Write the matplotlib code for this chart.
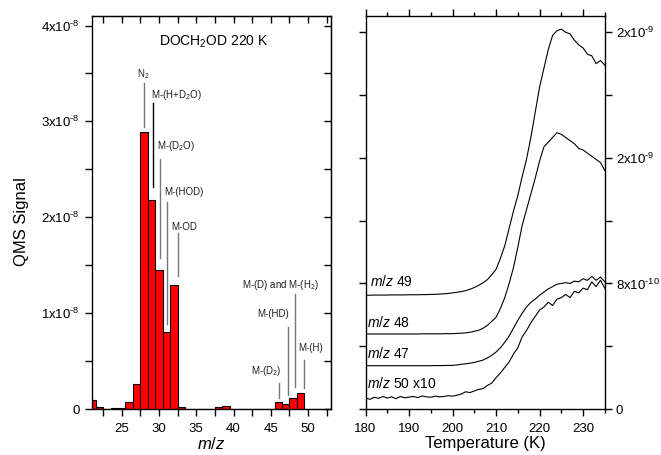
import matplotlib
matplotlib.use('Agg')
import matplotlib.pyplot as plt
from matplotlib.ticker import MultipleLocator, FixedLocator, FixedFormatter

plt.rcParams['font.family'] = ['Liberation Sans', 'DejaVu Sans']
plt.rcParams['mathtext.fontset'] = 'custom'
plt.rcParams['mathtext.rm'] = 'Liberation Sans'
plt.rcParams['mathtext.it'] = 'Liberation Sans:italic'
plt.rcParams['mathtext.bf'] = 'Liberation Sans:bold'

# ---------------- left panel data (units of 1e-8) ----------------
mz = list(range(21, 54))
signal_e8 = [0.09, 0.02, 0.005, 0.008, 0.008, 0.076, 0.26, 2.89, 2.18, 1.45,
             0.80, 1.29, 0.02, 0.005, 0.004, 0.004, 0.004, 0.02, 0.03, 0.0,
             0.0, 0.0, 0.0, 0.0, 0.0, 0.07, 0.05, 0.12, 0.165, 0.005,
             0.004, 0.004, 0.004]

# annotations: label, label x, label y (1e-8), line x, line y0, line y1
ann_labels = ['N$_2$', 'M-(H+D$_2$O)', 'M-(D$_2$O)', 'M-(HOD)', 'M-OD',
              'M-(D) and M-(H$_2$)', 'M-(HD)', 'M-(H)', 'M-(D$_2$)']
ann_text_x = [27.9, 28.9, 29.8, 30.7, 31.7, 41.2, 43.2, 48.7, 42.4]
ann_text_y = [3.49, 3.28, 2.74, 2.26, 1.90, 1.29, 0.99, 0.64, 0.40]
ann_line_x = [28.0, 29.25, 30.1, 31.1, 32.6, 48.2, 47.3, 49.4, 46.1]
ann_line_top = [3.40, 3.19, 2.61, 2.16, 1.84, 1.20, 0.86, 0.51, 0.275]
ann_line_bot = [2.94, 2.32, 1.58, 0.89, 1.39, 0.23, 0.146, 0.22, 0.118]

# ---------------- right panel data (units of 1e-10) ----------------
temp = list(range(180, 236))
mz49 = [7.25, 7.25, 7.26, 7.26, 7.26, 7.26, 7.27, 7.27, 7.27, 7.27,
        7.28, 7.28, 7.28, 7.29, 7.29, 7.30, 7.31, 7.32, 7.34, 7.36,
        7.40, 7.44, 7.48, 7.54, 7.63, 7.74, 7.88, 8.04, 8.24, 8.55,
        8.9, 9.6, 10.4, 11.5, 12.6, 13.6, 14.8, 15.9, 17.3, 18.9,
        20.5, 21.7, 22.9, 23.8, 24.1, 24.2, 24.0, 23.9, 23.5, 23.2,
        23.0, 22.6, 22.5, 22.0, 22.2, 21.9]
mz48 = [4.78, 4.78, 4.78, 4.78, 4.78, 4.78, 4.78, 4.78, 4.78, 4.78,
        4.78, 4.78, 4.78, 4.79, 4.79, 4.79, 4.79, 4.79, 4.80, 4.80,
        4.80, 4.82, 4.83, 4.85, 4.89, 4.95, 5.02, 5.14, 5.33, 5.58,
        5.85, 6.4, 7.1, 8.0, 9.0, 10.3, 11.7, 12.7, 13.7, 14.7,
        15.8, 16.7, 17.0, 17.3, 17.6, 17.5, 17.3, 17.1, 16.9, 16.6,
        16.5, 16.3, 16.1, 15.9, 15.7, 15.2]
mz47 = [2.76, 2.76, 2.76, 2.76, 2.76, 2.76, 2.76, 2.76, 2.76, 2.76,
        2.76, 2.76, 2.76, 2.76, 2.76, 2.76, 2.77, 2.77, 2.77, 2.78,
        2.78, 2.81, 2.85, 2.88, 2.92, 2.97, 3.04, 3.12, 3.25, 3.42,
        3.63, 3.9, 4.25, 4.65, 5.15, 5.65, 6.1, 6.5, 6.8, 7.0,
        7.25, 7.45, 7.65, 7.8, 7.95, 8.0, 8.05, 8.0, 8.15, 8.1,
        8.3, 8.2, 8.45, 8.2, 8.4, 8.1]
mz50x10 = [0.70, 0.62, 0.75, 0.68, 0.80, 0.70, 0.78, 0.66, 0.80, 0.72,
           0.76, 0.80, 0.73, 0.83, 0.78, 0.75, 0.82, 0.78, 0.80, 0.85,
           0.82, 0.88, 0.95, 1.10, 1.05, 1.15, 1.25, 1.30, 1.50, 1.65,
           2.0, 2.3, 2.65, 3.0, 3.5, 3.9, 4.6, 5.0, 5.5, 5.9,
           6.3, 6.5, 6.8, 6.6, 7.0, 7.1, 7.3, 7.1, 7.5, 7.4,
           7.7, 7.6, 8.1, 7.8, 8.2, 7.7]
curve_labels = ['$m/z$ 49', '$m/z$ 48', '$m/z$ 47', '$m/z$ 50 x10']
curve_label_x = [181.0, 180.4, 180.4, 180.4]
curve_label_y = [8.1, 5.5, 3.55, 1.64]

left_ticks = [0, 1e-8, 2e-8, 3e-8, 4e-8]
left_ticklabels = ['0', r'1x10$^{\text{-8}}$', r'2x10$^{\text{-8}}$',
                   r'3x10$^{\text{-8}}$', r'4x10$^{\text{-8}}$']
right_ticks = [0, 4e-10, 8e-10, 1.2e-9, 1.6e-9, 2.0e-9, 2.4e-9]
right_ticklabels = ['0', '', r'8x10$^{\text{-10}}$', '', r'2x10$^{\text{-9}}$',
                    '', r'2x10$^{\text{-9}}$']

fig = plt.figure(figsize=(6.61, 4.55), dpi=100)
ax1 = fig.add_axes([0.139, 0.101, 0.362, 0.864])
ax2 = fig.add_axes([0.553, 0.101, 0.362, 0.864])

# ---------------- left panel ----------------
ax1.bar(mz, [v * 1e-8 for v in signal_e8], width=1.0, color='#ff0000',
        edgecolor='black', linewidth=0.8, zorder=2)
ax1.set_xlim(21.0, 53.1)
ax1.set_ylim(0, 4.1e-8)
ax1.yaxis.set_major_locator(FixedLocator(left_ticks))
ax1.yaxis.set_major_formatter(FixedFormatter(left_ticklabels))
ax1.yaxis.set_minor_locator(MultipleLocator(0.5e-8))
ax1.xaxis.set_major_locator(MultipleLocator(5))
ax1.xaxis.set_minor_locator(MultipleLocator(2.5))
ax1.tick_params(axis='both', which='major', direction='out', length=5, width=1,
                labelsize=9.5)
ax1.tick_params(axis='both', which='minor', direction='out', length=5, width=1)
ax1.tick_params(axis='x', which='major', pad=5)
ax1.tick_params(axis='y', which='major', pad=4)
for sp in ax1.spines.values():
    sp.set_linewidth(1)

sec_r = ax1.secondary_yaxis('right')
sec_r.yaxis.set_major_locator(MultipleLocator(0.5e-8))
sec_r.tick_params(direction='in', length=5, width=1, labelright=False)
sec_t = ax1.secondary_xaxis('top')
sec_t.xaxis.set_major_locator(MultipleLocator(2.5))
sec_t.tick_params(direction='in', length=5, width=1, labeltop=False)

ax1.text(30.0, 3.83e-8, 'DOCH$_2$OD 220 K', fontsize=10, va='center', ha='left')
for i, lab in enumerate(ann_labels):
    ha = 'center' if i == 0 else 'left'
    ax1.text(ann_text_x[i], ann_text_y[i] * 1e-8, lab, fontsize=7, ha=ha,
             va='center', color='#202020')
    col = 'black' if i == 1 else '#777777'
    ax1.plot([ann_line_x[i], ann_line_x[i]],
             [ann_line_bot[i] * 1e-8, ann_line_top[i] * 1e-8],
             color=col, lw=1.0, zorder=3)

ax1.set_xlabel('$m/z$', fontsize=12, labelpad=1)
ax1.set_ylabel('QMS Signal', fontsize=12)
ax1.yaxis.set_label_coords(-0.262, 0.476)

# ---------------- right panel ----------------
for series in [mz49, mz48, mz47, mz50x10]:
    ax2.plot(temp, [v * 1e-10 for v in series], color='black', lw=0.8)
for i, lab in enumerate(curve_labels):
    ax2.text(curve_label_x[i], curve_label_y[i] * 1e-10, lab, fontsize=10,
             ha='left', va='center')

ax2.set_xlim(180, 235)
ax2.set_ylim(0, 2.504e-9)
ax2.xaxis.set_major_locator(MultipleLocator(10))
ax2.xaxis.set_minor_locator(MultipleLocator(5))
ax2.yaxis.set_major_locator(FixedLocator(right_ticks))
ax2.yaxis.set_major_formatter(FixedFormatter(right_ticklabels))
ax2.tick_params(axis='both', which='both', direction='out', width=1,
                top=True, bottom=True, left=True, right=True,
                labelleft=False, labelright=True, labelsize=9.5)
ax2.tick_params(axis='both', which='major', length=5)
ax2.tick_params(axis='both', which='minor', length=3)
ax2.tick_params(axis='x', which='major', pad=5)
ax2.tick_params(axis='y', which='major', pad=3)
for sp in ax2.spines.values():
    sp.set_linewidth(1)
ax2.set_xlabel('Temperature (K)', fontsize=12, labelpad=1)

fig.savefig('out.png', dpi=100)
